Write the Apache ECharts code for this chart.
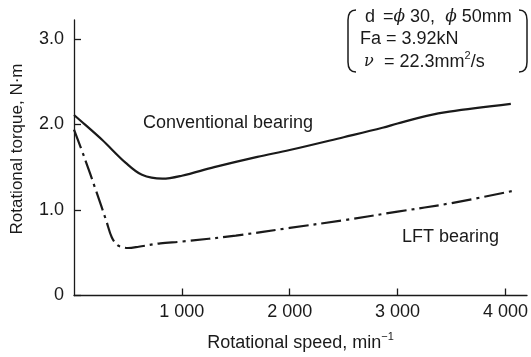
<!DOCTYPE html>
<html>
<head>
<meta charset="utf-8">
<script src="https://cdn.jsdelivr.net/npm/echarts@6/dist/echarts.min.js"></script>
<style>html,body{margin:0;padding:0;background:#fff}#c{width:531px;height:357px}</style>
</head>
<body>
<div id="c"></div>
<script>
// Data
const convSpeed = [0, 100, 260, 480, 630, 820, 1000, 1300, 1700, 2000, 2500, 2860, 3000, 3270, 3480, 4050];
const convTorque = [2.11, 2.0, 1.82, 1.55, 1.41, 1.365, 1.40, 1.50, 1.62, 1.70, 1.85, 1.96, 2.01, 2.10, 2.15, 2.24];
const lftSpeed = [0, 100, 200, 300, 350, 400, 450, 500, 600, 800, 1000, 1500, 2000, 2500, 3000, 3500, 4080];
const lftTorque = [1.94, 1.60, 1.24, 0.87, 0.68, 0.59, 0.565, 0.555, 0.57, 0.61, 0.63, 0.70, 0.79, 0.88, 0.98, 1.08, 1.225];
const xTicks = [1000, 2000, 3000, 4000];
const yTicks = [0, 1, 2, 3];

const FONT = 'Liberation Sans, Arial, sans-serif';
const INK = '#1a1a1a';
const chart = echarts.init(document.getElementById('c'), null, {renderer: 'canvas'});
const pair = (xs, ys) => xs.map((x, i) => [x, ys[i]]);

function paren(x, dir) {
  const st = {stroke: INK, lineWidth: 1.5, fill: null};
  return [
    {type: 'bezierCurve', shape: {x1: x + 8 * dir, y1: 10, x2: x, y2: 20, cpx1: x, cpy1: 10}, style: st},
    {type: 'line', shape: {x1: x, y1: 20, x2: x, y2: 62}, style: st},
    {type: 'bezierCurve', shape: {x1: x, y1: 62, x2: x + 8 * dir, y2: 72, cpx1: x, cpy1: 72}, style: st}
  ];
}

chart.setOption({
  animation: false,
  backgroundColor: '#fff',
  grid: {left: 74, right: 4, top: 20, bottom: 61},
  xAxis: {
    type: 'value', min: 0, max: 4200,
    name: '{a|Rotational speed, min}{s|−1}',
    nameLocation: 'middle', nameGap: 36,
    nameTextStyle: {rich: {
      a: {fontFamily: FONT, fontSize: 18, color: INK},
      s: {fontFamily: FONT, fontSize: 11, color: INK, padding: [0, 0, 12, 0]}
    }},
    axisLine: {lineStyle: {color: INK, width: 1.3}},
    axisTick: {inside: true, length: 7, lineStyle: {color: INK, width: 1.3}, customValues: xTicks},
    axisLabel: {fontFamily: FONT, fontSize: 18, color: INK, margin: 8, customValues: xTicks,
      formatter: v => String(v).replace(/(\d)(\d{3})$/, '$1 $2')},
    splitLine: {show: false}
  },
  yAxis: {
    type: 'value', min: 0, max: 3.22,
    axisLine: {show: true, lineStyle: {color: INK, width: 1.3}},
    axisTick: {show: true, inside: true, length: 7, lineStyle: {color: INK, width: 1.3}, customValues: yTicks},
    axisLabel: {fontFamily: FONT, fontSize: 18, color: INK, margin: 10, customValues: yTicks,
      formatter: v => v === 0 ? '0' : v.toFixed(1)},
    splitLine: {show: false}
  },
  series: [
    {type: 'line', name: 'Conventional bearing', data: pair(convSpeed, convTorque), smooth: 0.35,
      symbol: 'none', lineStyle: {color: INK, width: 2.2}},
    {type: 'line', name: 'LFT bearing', data: pair(lftSpeed, lftTorque), smooth: 0.35,
      symbol: 'none', lineStyle: {color: INK, width: 2.2, type: [20, 5, 3, 5]}}
  ],
  graphic: [
    {type: 'text', x: 17, y: 149, rotation: Math.PI / 2,
      style: {text: 'Rotational torque, N·m', font: '17px ' + FONT, fill: INK, align: 'center', verticalAlign: 'middle'}},
    {type: 'text', x: 228, y: 123, style: {text: 'Conventional bearing', font: '18px ' + FONT, fill: INK, align: 'center', verticalAlign: 'middle'}},
    {type: 'text', x: 402, y: 237, style: {text: 'LFT bearing', font: '18px ' + FONT, fill: INK, align: 'left', verticalAlign: 'middle'}},
    ...paren(348, 1),
    ...paren(527, -1),
    {type: 'text', x: 365, y: 17, style: {text: 'd', font: '18px ' + FONT, fill: INK, verticalAlign: 'middle'}},
    {type: 'text', x: 360, y: 39, style: {text: 'Fa', font: '18px ' + FONT, fill: INK, verticalAlign: 'middle'}},
    {type: 'text', x: 364, y: 62, style: {text: 'ν', font: 'italic 16px DejaVu Serif, serif', fill: INK, verticalAlign: 'middle'}},
    {type: 'text', x: 383, y: 17, style: {text: '{a|=}{p|ϕ}{a| 30,  }{p|ϕ}{a| 50mm}', verticalAlign: 'middle',
      rich: {a: {font: '18px ' + FONT, fill: INK}, p: {font: 'italic 17px DejaVu Serif, serif', fill: INK}}}},
    {type: 'text', x: 386, y: 39, style: {text: '= 3.92kN', font: '18px ' + FONT, fill: INK, verticalAlign: 'middle'}},
    {type: 'text', x: 384, y: 62, style: {text: '{a|= 22.3mm}{s|2}{a|/s}', fill: INK, verticalAlign: 'middle',
      rich: {a: {font: '18px ' + FONT, fill: INK}, s: {font: '11px ' + FONT, fill: INK, padding: [0, 0, 12, 0]}}}}
  ]
});
</script>
</body>
</html>
